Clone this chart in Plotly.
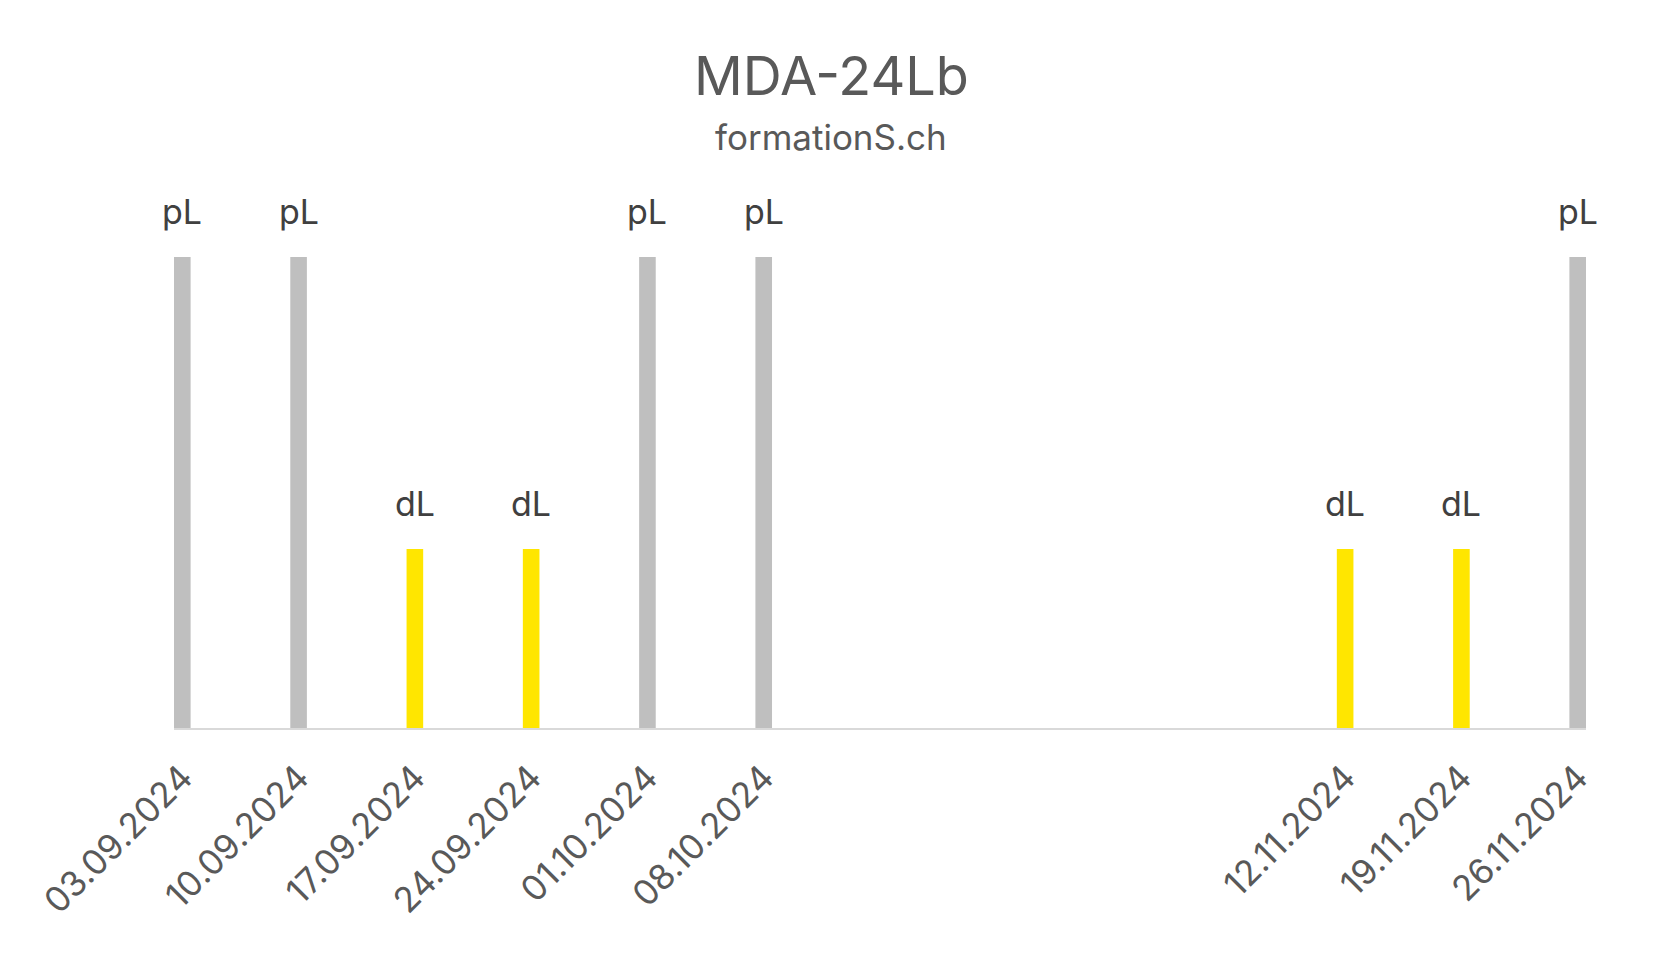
import pandas as pd
import plotly.graph_objects as go

dates = ["2024-09-03", "2024-09-10", "2024-09-17", "2024-09-24", "2024-10-01",
         "2024-10-08", "2024-11-12", "2024-11-19", "2024-11-26"]
kinds = ["pL", "pL", "dL", "dL", "pL", "pL", "dL", "dL", "pL"]
values = [1, 1, 0.38, 0.38, 1, 1, 0.38, 0.38, 1]

title = "MDA-24Lb"
subtitle = "formationS.ch"

colors = {"pL": "#BFBFBF", "dL": "#FFE600"}
FONT = "Inter"

x = pd.to_datetime(dates)
ticktext = [d.strftime("%d.%m.%Y") for d in x]
day = 86400000

fig = go.Figure(go.Bar(
    x=x,
    y=values,
    width=[day] * len(x),
    marker=dict(color=[colors[k] for k in kinds], line=dict(width=0)),
    hoverinfo="x+y",
))

# labels above the bars
for xi, v, k in zip(x, values, kinds):
    fig.add_annotation(x=xi, y=v, text=k, showarrow=False, yanchor="bottom",
                       yshift=23, font=dict(family=FONT, size=34, color="#404040"))

fig.add_annotation(xref="paper", yref="paper", x=0.4653, y=1.312, yanchor="bottom",
                   text=title, showarrow=False,
                   font=dict(family=FONT, size=54, color="#595959"))
fig.add_annotation(xref="paper", yref="paper", x=0.4653, y=1.206, yanchor="bottom",
                   text=subtitle, showarrow=False,
                   font=dict(family=FONT, size=35, color="#595959"))

fig.update_layout(
    width=1662, height=955,
    margin=dict(l=166, r=84, t=249, b=235),
    plot_bgcolor="white", paper_bgcolor="white",
    showlegend=False,
    font=dict(family=FONT, color="#595959"),
)
fig.update_xaxes(
    type="date",
    range=[x[0] - pd.Timedelta(hours=12), x[-1] + pd.Timedelta(hours=12)],
    tickmode="array", tickvals=x, ticktext=ticktext,
    tickangle=-45, tickfont=dict(family=FONT, size=35, color="#595959"),
    ticklabelstandoff=13,
    showgrid=False, zeroline=False,
    showline=True, linecolor="#D9D9D9", linewidth=2, ticks="",
)
fig.update_yaxes(range=[0, 1], visible=False)

fig.write_html("out.html")
